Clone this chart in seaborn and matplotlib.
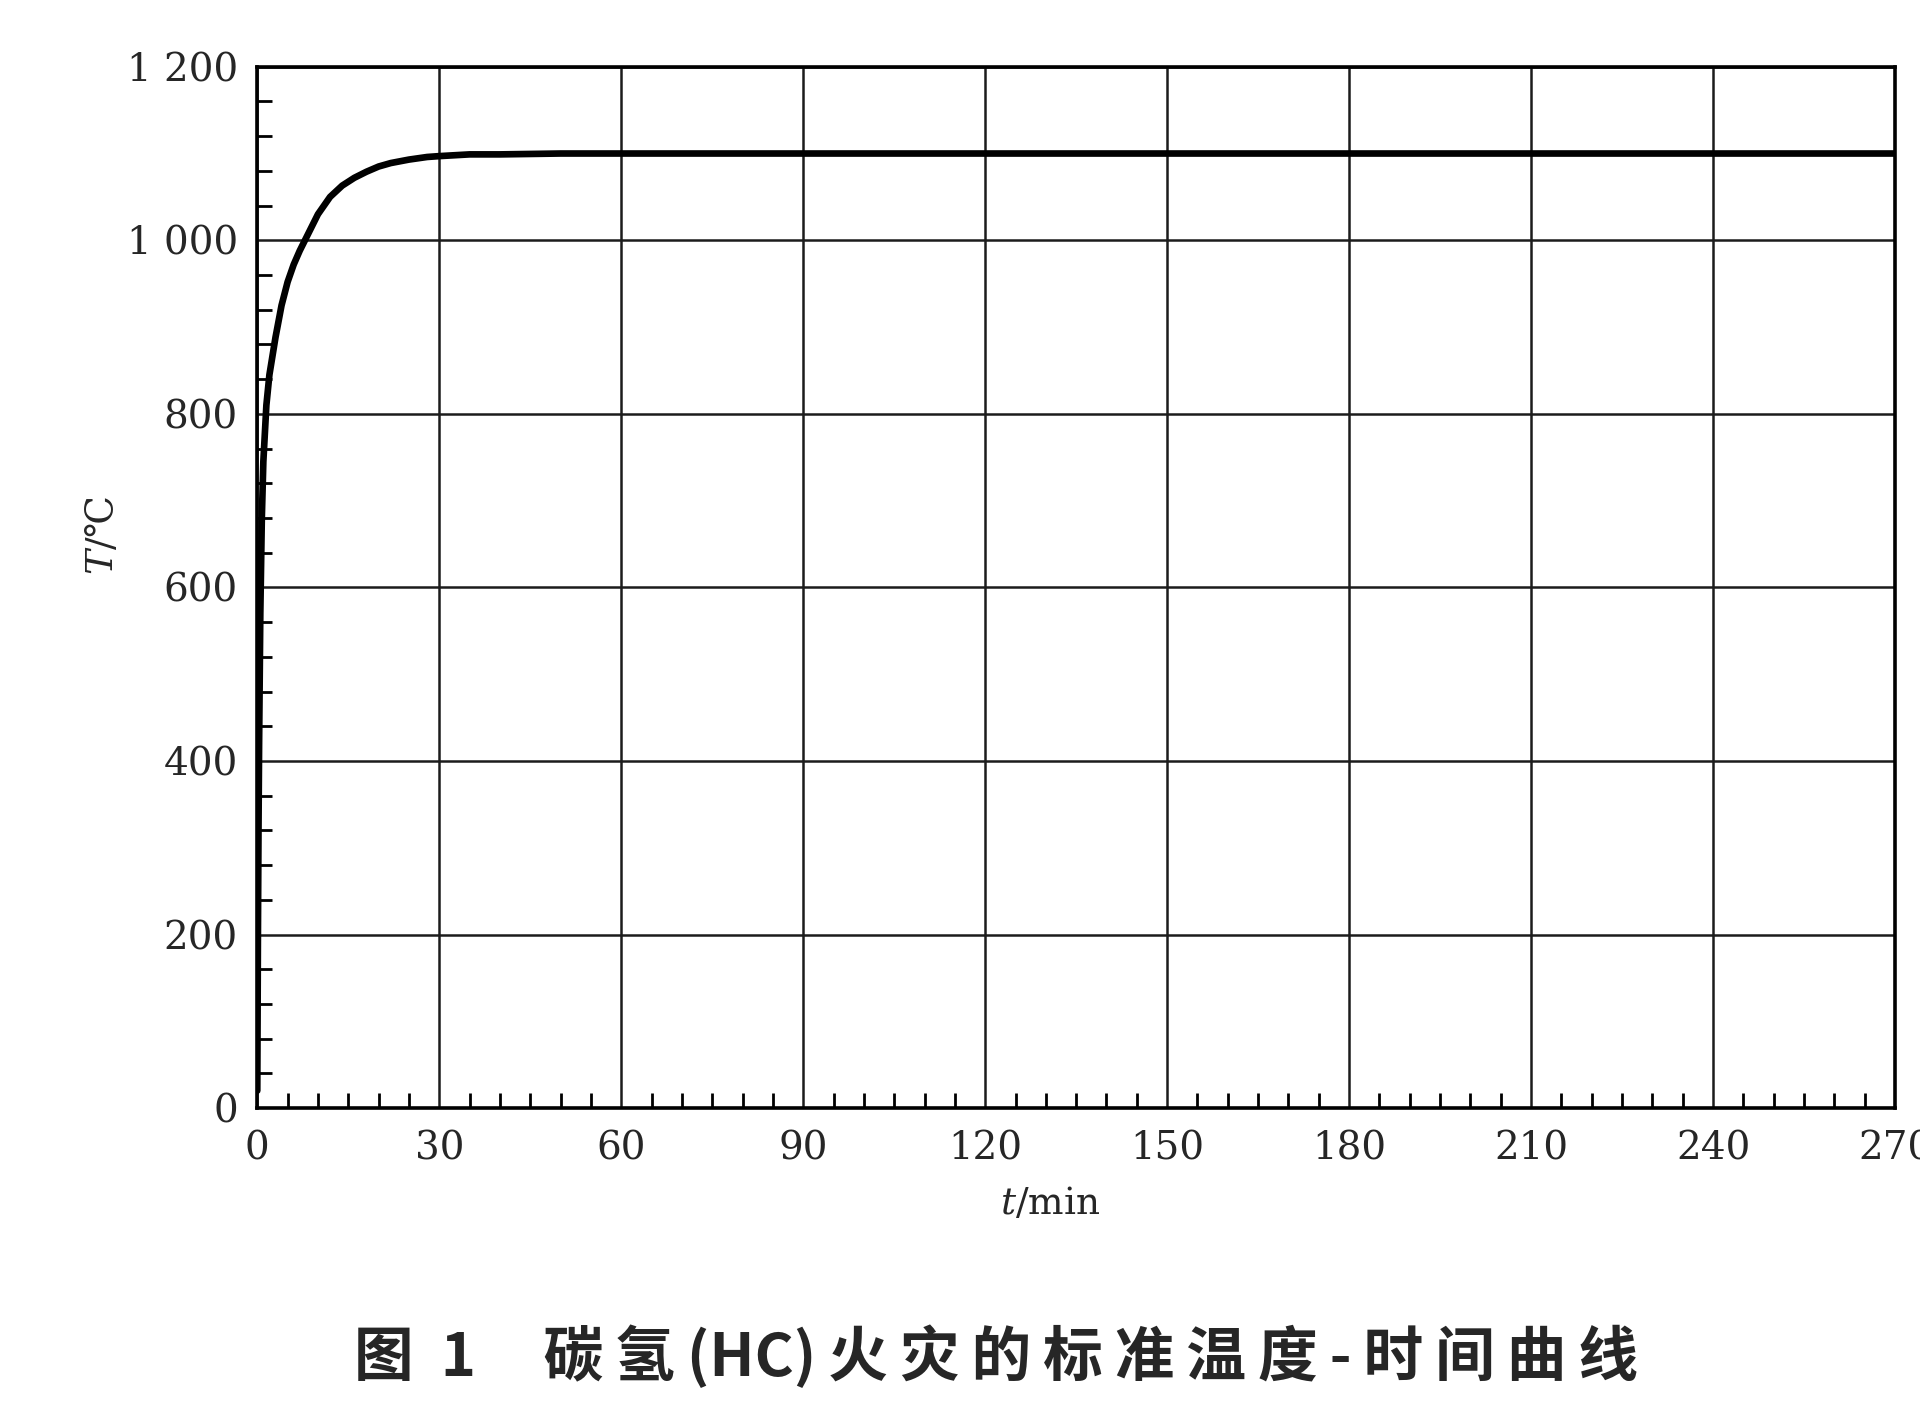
import matplotlib
matplotlib.use("Agg")
import matplotlib.pyplot as plt
import seaborn as sns
from matplotlib.ticker import MultipleLocator, FixedLocator, FixedFormatter

# values (time in min, temperature in C)
time_min = [0, 0.1, 0.2, 0.3, 0.5, 0.75, 1, 1.5, 2, 3, 4, 5, 6, 7, 8, 10,
            12, 14, 16, 18, 20, 22, 25, 28, 30, 35, 40, 50, 60, 90, 120,
            150, 180, 210, 240, 270]
temp_c = [20, 190, 320, 420, 570, 680, 745, 810, 845, 888, 925, 952, 972,
          988, 1002, 1030, 1050, 1063, 1072, 1079, 1085, 1089, 1093, 1096,
          1097, 1099, 1099, 1100, 1100, 1100, 1100, 1100, 1100, 1100, 1100,
          1100]

x_ticks = [0, 30, 60, 90, 120, 150, 180, 210, 240, 270]
y_ticks = [0, 200, 400, 600, 800, 1000, 1200]
y_tick_labels = ["0", "200", "400", "600", "800", "1 000", "1 200"]

fig_no = "图  1"
caption_chars = ["碳", "氢", "(HC)", "火", "灾", "的", "标", "准",
                 "温", "度", "-", "时", "间", "曲", "线"]

sns.set_style("ticks")
plt.rcParams["font.family"] = ["DejaVu Serif", "Noto Sans CJK SC"]
plt.rcParams["mathtext.fontset"] = "dejavuserif"

fig = plt.figure(figsize=(19.2, 14.11), dpi=100)
ax = fig.add_axes([0.134, 0.2147, 0.853, 0.738])

sns.lineplot(x=time_min, y=temp_c, ax=ax, color="black", linewidth=4.8, zorder=5)

ax.set_xlim(0, 270)
ax.set_ylim(0, 1200)
ax.xaxis.set_major_locator(FixedLocator(x_ticks))
ax.yaxis.set_major_locator(FixedLocator(y_ticks))
ax.yaxis.set_major_formatter(FixedFormatter(y_tick_labels))
ax.xaxis.set_minor_locator(MultipleLocator(5))
ax.yaxis.set_minor_locator(MultipleLocator(40))

ax.grid(True, which="major", color="#1c1c1c", linewidth=1.8)
ax.tick_params(which="major", direction="in", length=0, labelsize=28, pad=14)
ax.tick_params(which="minor", direction="in", length=11, width=2.0, color="black")
ax.tick_params(axis="x", which="major", pad=16)

for side in ["left", "right", "top", "bottom"]:
    ax.spines[side].set_linewidth(2.6)
    ax.spines[side].set_color("black")

ax.set_xlabel("$t$/min", fontsize=27)
ax.set_ylabel("$T$/℃", fontsize=27)
ax.xaxis.set_label_coords(0.484, -0.075)
ax.yaxis.set_label_coords(-0.083, 0.55)

# caption with a little letter spacing, as in the printed figure
caption = fig_no + "     " + "\u2009".join(caption_chars)
fig.text(0.519, 0.038, caption, ha="center", va="center", fontsize=43,
         fontweight="bold", family=["Noto Sans CJK SC", "DejaVu Sans"])

fig.savefig("out.png", dpi=100)
